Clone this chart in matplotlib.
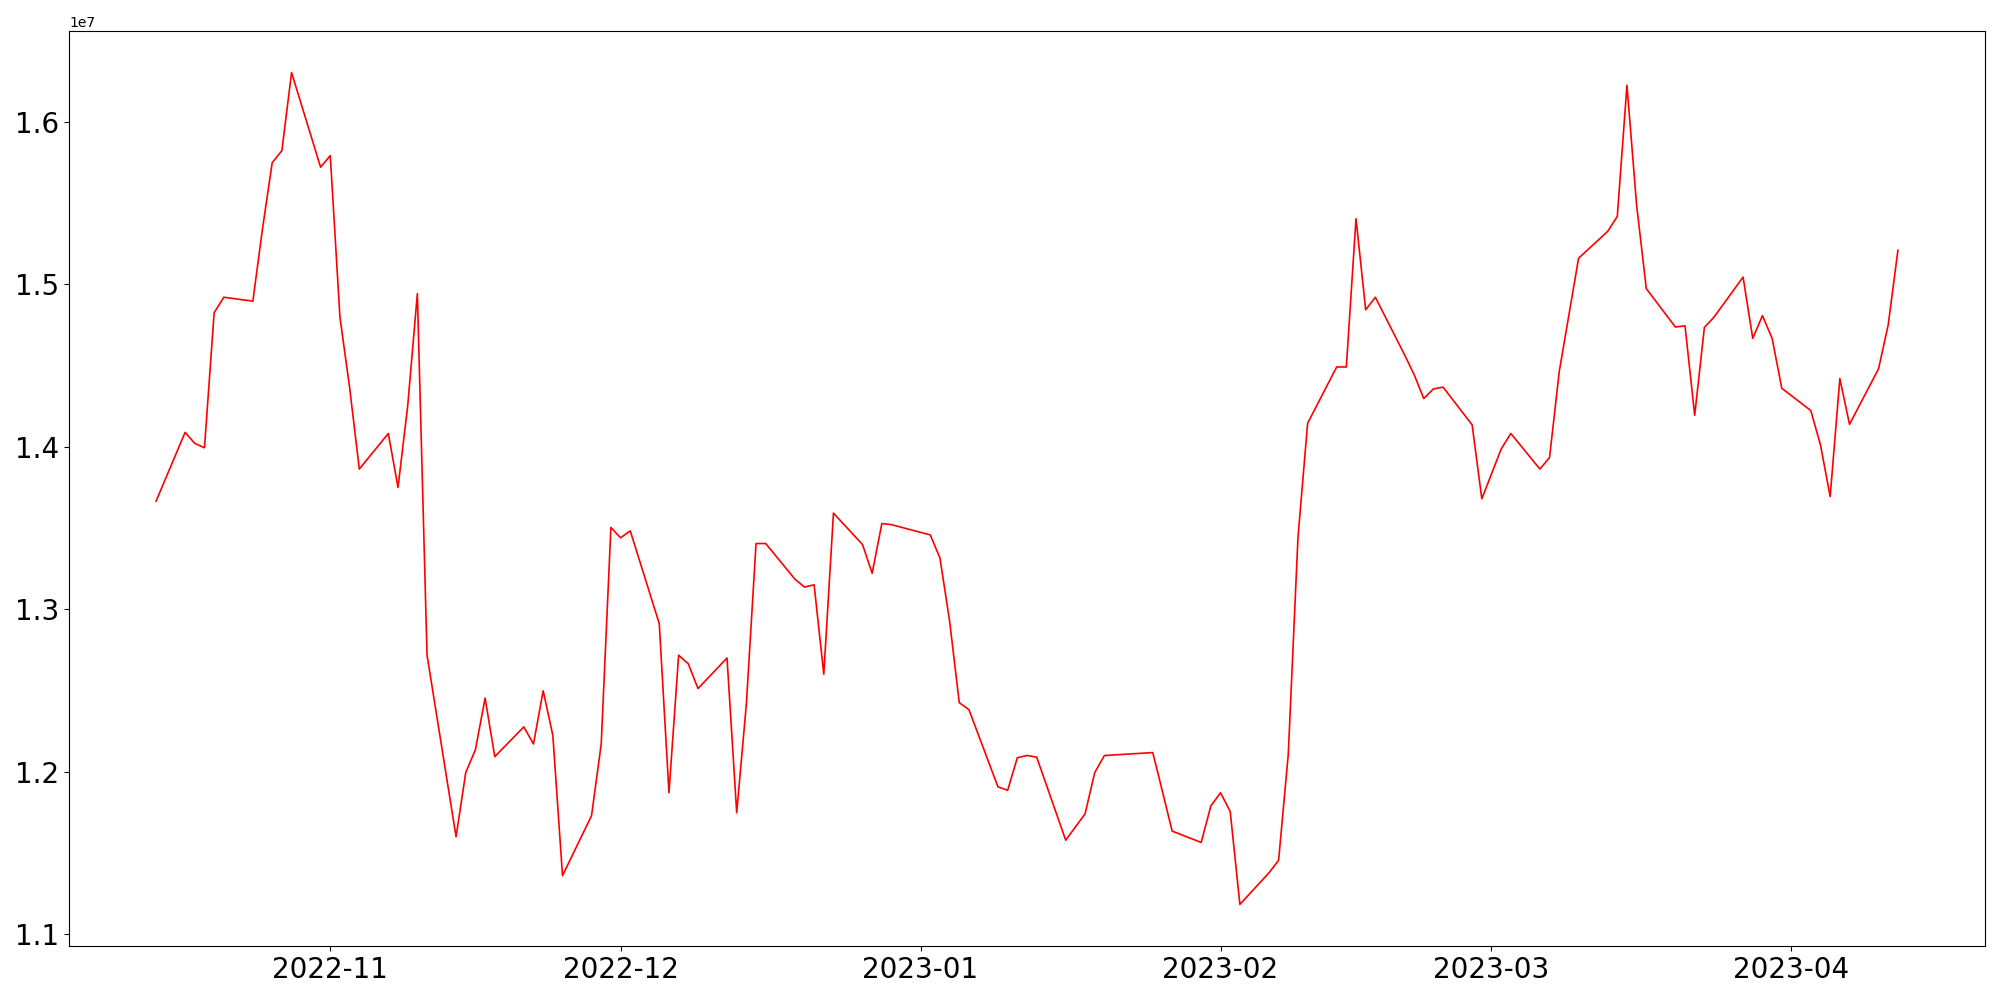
import numpy as np
import pandas as pd
import matplotlib
matplotlib.use("Agg")
import matplotlib.pyplot as plt

# trading days (weekdays minus market holidays)
start_date = "2022-10-14"
end_date = "2023-04-12"
holidays = ["2022-12-30", "2023-01-23", "2023-01-24", "2023-03-01"]

# values in units of 1e7
values = [
    1.3666, 1.4089, 1.4021, 1.3994, 1.4825, 1.4920, 1.4896, 1.5343, 1.5748, 1.5822,
    1.6302, 1.5720, 1.5791, 1.4797, 1.4364, 1.3863, 1.4082, 1.3750, 1.4251, 1.4942,
    1.2718, 1.1601, 1.1996, 1.2137, 1.2454, 1.2094, 1.2277, 1.2172, 1.2499, 1.2225,
    1.1362, 1.1731, 1.2172, 1.3504, 1.3440, 1.3483, 1.2912, 1.1872, 1.2718, 1.2665,
    1.2513, 1.2701, 1.1749, 1.2418, 1.3405, 1.3405, 1.3187, 1.3137, 1.3151, 1.2601,
    1.3592, 1.3399, 1.3222, 1.3528, 1.3521, 1.3458, 1.3317, 1.2929, 1.2426, 1.2383,
    1.1908, 1.1887, 1.2087, 1.2101, 1.2091, 1.1580, 1.1661, 1.1742, 1.1996, 1.2101,
    1.2119, 1.1879, 1.1636, 1.1566, 1.1791, 1.1872, 1.1756, 1.1185, 1.1379, 1.1456,
    1.2108, 1.3440, 1.4145, 1.4491, 1.4491, 1.5403, 1.4843, 1.4920, 1.4568, 1.4445,
    1.4297, 1.4356, 1.4367, 1.4135, 1.3680, 1.3986, 1.4082, 1.3863, 1.3934, 1.4462,
    1.4811, 1.5160, 1.5325, 1.5417, 1.6224, 1.5485, 1.4973, 1.4737, 1.4744, 1.4194,
    1.4734, 1.4798, 1.5044, 1.4667, 1.4807, 1.4667, 1.4360, 1.4223, 1.4011, 1.3694,
    1.4420, 1.4138, 1.4480, 1.4751, 1.5209,
]

fechas = pd.bdate_range(start_date, end_date)
fechas = fechas[~fechas.isin(pd.to_datetime(holidays))]
serie = np.array(values) * 1e7

fig = plt.figure(figsize=(20, 10), dpi=100)
plt.plot(fechas, serie, color="red", linewidth=1.2)
plt.xticks(fontsize=20)
plt.yticks(fontsize=20)
plt.subplots_adjust(left=0.0345, right=0.9925, top=0.969, bottom=0.054)
plt.savefig("out.png")
